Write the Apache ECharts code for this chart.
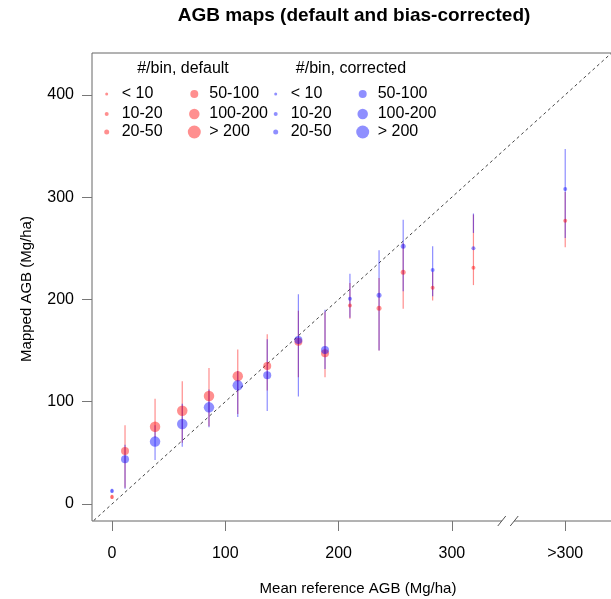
<!DOCTYPE html>
<html>
<head>
<meta charset="utf-8">
<title>AGB maps</title>
<script src="https://cdn.jsdelivr.net/npm/echarts@6/dist/echarts.min.js"></script>
<style>
  html, body { margin: 0; padding: 0; background: #fff; }
  #chart { width: 611px; height: 599px; }
</style>
</head>
<body>
<div id="chart"></div>
<script>
// bin positions on the reference axis (400 = the ">300" bin)
const binX = [0, 11.5, 38, 62, 85.6, 111, 137, 164.5, 188, 210, 235.7, 257, 283, 319, 400];
// index into sizeLabels for each bin
const binClass = [1, 3, 4, 4, 4, 4, 3, 3, 3, 1, 2, 2, 1, 1, 1];

const defaultMean = [6.8, 51.8, 75.6, 91.2, 105.6, 125, 135, 158.7, 147.3, 194, 191.3, 226.5, 211.5, 231, 277];
const defaultLow = [5, 16, 65, 60, 76, 88, 111, 124, 124, 181, 150, 191, 199, 214, 251];
const defaultHigh = [9, 77, 103, 120, 133, 151, 166, 189, 188, 216, 221, 255, 227, 283, 305];

const correctedMean = [12.7, 43.7, 61, 78.2, 94.5, 116, 126, 160.3, 150.5, 200.7, 204, 252, 228.7, 250, 308];
const correctedLow = [11, 15, 43, 56, 75, 85, 91, 105, 132, 182, 150, 208, 203, 265, 260];
const correctedHigh = [15, 58, 77, 98, 112, 130, 161, 205, 190, 225, 248, 278, 252, 284, 347];

const sizeLabels = ["< 10", "10-20", "20-50", "50-100", "100-200", "> 200"];
const xTicks = [0, 100, 200, 300, 400];
const xTickLabels = ["0", "100", "200", "300", ">300"];
const yTicks = [0, 100, 200, 300, 400];
const oneToOne = [-20, 450];
const breakX = [344, 355];

const FONT = "'Liberation Sans', Arial, sans-serif";
const RED = "rgba(255,0,0,0.55)";
const BLUE = "rgba(0,0,255,0.55)";
const RED_BAR = "rgba(255,0,0,0.45)";
const BLUE_BAR = "rgba(0,0,255,0.45)";
const symbolSizes = [3, 4, 5, 8, 10.5, 13];

const X_MIN = -17.65, X_MAX = 445.7;
const Y_MIN = -16.6, Y_MAX = 440.9;

const groups = [
  { key: "default", color: RED, bar: RED_BAR, mean: defaultMean, low: defaultLow, high: defaultHigh },
  { key: "corrected", color: BLUE, bar: BLUE_BAR, mean: correctedMean, low: correctedLow, high: correctedHigh },
];

const series = [];

series.push({
  type: "line",
  data: [[oneToOne[0], oneToOne[0]], [oneToOne[1], oneToOne[1]]],
  showSymbol: false,
  silent: true,
  clip: true,
  z: 1,
  lineStyle: { color: "#444", width: 1, type: [3, 3] },
});

groups.forEach((g) => {
  series.push({
    type: "custom",
    z: 2,
    silent: true,
    data: binX.map((x, i) => [x, g.low[i], g.high[i]]),
    renderItem: (params, api) => {
      const a = api.coord([api.value(0), api.value(1)]);
      const b = api.coord([api.value(0), api.value(2)]);
      return {
        type: "line",
        shape: { x1: a[0], y1: a[1], x2: b[0], y2: b[1] },
        style: { stroke: g.bar, lineWidth: 1.2 },
      };
    },
  });
});

groups.forEach((g) => {
  sizeLabels.forEach((lab, k) => {
    series.push({
      name: g.key + " " + lab,
      type: "scatter",
      z: 3,
      symbol: "circle",
      symbolSize: symbolSizes[k],
      itemStyle: { color: g.color },
      data: binX.map((x, i) => (binClass[i] === k ? [x, g.mean[i]] : null)).filter(Boolean),
    });
  });
});

// axis break on the x axis
series.push({
  type: "custom",
  z: 5,
  silent: true,
  data: [breakX],
  renderItem: (params, api) => {
    const p1 = api.coord([api.value(0), Y_MIN]);
    const p2 = api.coord([api.value(1), Y_MIN]);
    return {
      type: "group",
      children: [
        { type: "polygon", shape: { points: [[p1[0] - 4, p1[1] + 5], [p1[0] + 4, p1[1] - 5], [p2[0] + 4, p2[1] - 5], [p2[0] - 4, p2[1] + 5]] }, style: { fill: "#fff" } },
        { type: "line", shape: { x1: p1[0] - 4, y1: p1[1] + 5, x2: p1[0] + 4, y2: p1[1] - 5 }, style: { stroke: "#555", lineWidth: 1 } },
        { type: "line", shape: { x1: p2[0] - 4, y1: p2[1] + 5, x2: p2[0] + 4, y2: p2[1] - 5 }, style: { stroke: "#555", lineWidth: 1 } },
      ],
    };
  },
});

// legend: one component per entry so each can have its own symbol size
const colX = [106.7, 194.3, 275.7, 362.7];
const rowY = [92, 112, 130];
const legends = [];
groups.forEach((g, gi) => {
  sizeLabels.forEach((lab, k) => {
    const col = gi * 2 + (k >= 3 ? 1 : 0);
    const row = k % 3;
    const s = symbolSizes[k];
    legends.push({
      data: [{ name: g.key + " " + lab, icon: "circle" }],
      formatter: () => lab,
      left: colX[col] - s / 2,
      top: rowY[row] - 6,
      padding: 0,
      itemWidth: 20,
      itemHeight: s,
      selectedMode: false,
      textStyle: { fontFamily: FONT, fontSize: 16, color: "#000" },
    });
  });
});

const text = (str, x, y, extra) => ({
  type: "text",
  x: x,
  y: y,
  silent: true,
  ...extra,
  style: Object.assign({ text: str, fill: "#000", font: "15px " + FONT, align: "center", verticalAlign: "middle", textAlign: "center", textVerticalAlign: "middle" }, (extra && extra.style) || {}),
});

const chart = echarts.init(document.getElementById("chart"));
chart.setOption({
  animation: false,
  backgroundColor: "#fff",
  grid: { left: 92, top: 53, width: 525, height: 468, outerBoundsMode: "none", containLabel: false, show: true, borderColor: "#666", borderWidth: 1, backgroundColor: "transparent" },
  xAxis: {
    type: "value",
    min: X_MIN,
    max: X_MAX,
    splitLine: { show: false },
    axisLine: { show: false, onZero: false },
    axisTick: { show: true, customValues: xTicks, length: 10, lineStyle: { color: "#777", width: 1 } },
    axisLabel: {
      customValues: xTicks,
      margin: 25,
      fontFamily: FONT,
      fontSize: 16,
      color: "#000",
      formatter: (v) => xTickLabels[xTicks.indexOf(v)],
    },
  },
  yAxis: {
    type: "value",
    min: Y_MIN,
    max: Y_MAX,
    splitLine: { show: false },
    axisLine: { show: false, onZero: false },
    axisTick: { show: true, customValues: yTicks, length: 10, lineStyle: { color: "#777", width: 1 } },
    axisLabel: { customValues: yTicks, margin: 18, fontFamily: FONT, fontSize: 16, color: "#000" },
  },
  legend: legends,
  graphic: [
    text("AGB maps (default and bias-corrected)", 354, 16, { style: { font: "bold 19px " + FONT } }),
    text("#/bin, default", 183, 68.5, { style: { font: "16px " + FONT } }),
    text("#/bin, corrected", 351, 68.5, { style: { font: "16px " + FONT } }),
    text("Mean reference AGB (Mg/ha)", 358, 589, {}),
    text("Mapped AGB (Mg/ha)", 27, 289, { rotation: Math.PI / 2 }),
  ],
  series: series,
});
</script>
</body>
</html>
